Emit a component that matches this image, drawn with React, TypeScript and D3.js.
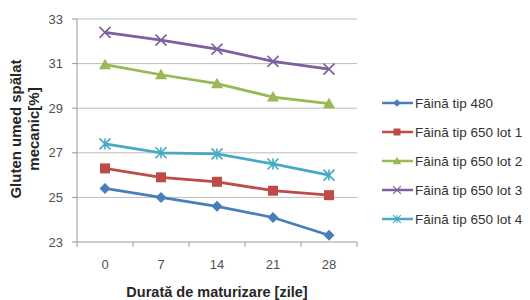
import React from "react";
import * as d3 from "d3";

const categories = ["0", "7", "14", "21", "28"];
const seriesNames = [
  "Făină tip 480",
  "Făină tip 650 lot 1",
  "Făină tip 650 lot 2",
  "Făină tip 650 lot 3",
  "Făină tip 650 lot 4",
];
const tip480 = [25.4, 25.0, 24.6, 24.1, 23.3];
const lot1 = [26.3, 25.9, 25.7, 25.3, 25.1];
const lot2 = [30.95, 30.5, 30.1, 29.5, 29.2];
const lot3 = [32.4, 32.05, 31.65, 31.1, 30.75];
const lot4 = [27.4, 27.0, 26.95, 26.5, 26.0];
const yTicks = [23, 25, 27, 29, 31, 33];
const colors = ["#4A7EBB", "#BE4B48", "#98B954", "#7D60A0", "#46AAC5"];
const markers = ["diamond", "square", "triangle", "x", "star"];

const allSeries = [tip480, lot1, lot2, lot3, lot4];

function Marker({ type, x, y, color }: { type: string; x: number; y: number; color: string }) {
  if (type === "diamond") {
    const s = 5.5;
    return <path d={`M${x},${y - s}L${x + s},${y}L${x},${y + s}L${x - s},${y}Z`} fill={color} />;
  }
  if (type === "square") {
    const s = 5;
    return <rect x={x - s} y={y - s} width={2 * s} height={2 * s} fill={color} />;
  }
  if (type === "triangle") {
    const s = 6;
    return <path d={`M${x},${y - s}L${x + s},${y + s * 0.75}L${x - s},${y + s * 0.75}Z`} fill={color} />;
  }
  if (type === "x") {
    const s = 5.5;
    return (
      <path d={`M${x - s},${y - s}L${x + s},${y + s}M${x - s},${y + s}L${x + s},${y - s}`} stroke={color} strokeWidth={1.6} fill="none" />
    );
  }
  const s = 5.5;
  return (
    <path
      d={`M${x - s},${y - s}L${x + s},${y + s}M${x - s},${y + s}L${x + s},${y - s}M${x},${y - s}L${x},${y + s}`}
      stroke={color}
      strokeWidth={1.6}
      fill="none"
    />
  );
}

export default function App() {
  const W = 530, H = 300;
  const left = 77, right = 357, top = 19, bottom = 242;
  const x = d3.scaleBand().domain(categories).range([left, right]);
  const y = d3.scaleLinear().domain([23, 33]).range([bottom, top]);
  const line = d3
    .line<number>()
    .x((_, i) => (x(categories[i]) as number) + x.bandwidth() / 2)
    .y((d) => y(d));
  const font = "'Liberation Sans', Arial, sans-serif";
  const legendY0 = 103, legendDy = 29;
  return (
    <svg width={W} height={H} style={{ position: "absolute", left: 0, top: 0, background: "#fff" }} fontFamily={font}>
      {yTicks.map((t) => (
        <g key={t}>
          {t !== 23 && <line x1={left} x2={right} y1={y(t)} y2={y(t)} stroke="#BDBDBD" strokeWidth={1} />}
          <line x1={left - 5} x2={left} y1={y(t)} y2={y(t)} stroke="#9A9A9A" />
          <text x={left - 14} y={y(t)} dy="0.35em" textAnchor="end" fontSize={13} fill="#505050">
            {t}
          </text>
        </g>
      ))}
      <line x1={left} x2={left} y1={top} y2={bottom} stroke="#9A9A9A" />
      <line x1={left} x2={right} y1={bottom} y2={bottom} stroke="#9A9A9A" />
      {d3.range(categories.length + 1).map((i) => {
        const xx = left + i * x.bandwidth();
        return <line key={i} x1={xx} x2={xx} y1={bottom} y2={bottom + 5} stroke="#9A9A9A" />;
      })}
      {categories.map((c) => (
        <text key={c} x={(x(c) as number) + x.bandwidth() / 2} y={bottom + 27} textAnchor="middle" fontSize={13} fill="#505050">
          {c}
        </text>
      ))}
      <text x={217} y={297} textAnchor="middle" fontSize={14.5} fontWeight="bold" fill="#262626">
        Durată de maturizare [zile]
      </text>
      <g transform="translate(21,129) rotate(-90)">
        <text x={0} y={0} textAnchor="middle" fontSize={15} fontWeight="bold" fill="#262626">
          Gluten umed spălat
        </text>
        <text x={0} y={18} textAnchor="middle" fontSize={15} fontWeight="bold" fill="#262626">
          mecanic[%]
        </text>
      </g>
      {allSeries.map((s, si) => (
        <g key={si}>
          <path d={line(s) || ""} fill="none" stroke={colors[si]} strokeWidth={2.75} />
          {s.map((v, i) => (
            <Marker key={i} type={markers[si]} x={(x(categories[i]) as number) + x.bandwidth() / 2} y={y(v)} color={colors[si]} />
          ))}
        </g>
      ))}
      {seriesNames.map((n, si) => {
        const ly = legendY0 + si * legendDy;
        return (
          <g key={n}>
            <line x1={382} x2={413} y1={ly} y2={ly} stroke={colors[si]} strokeWidth={2.5} />
            <g transform={`translate(397,${ly}) scale(0.7) translate(-397,${-ly})`}>
              <Marker type={markers[si]} x={397} y={ly} color={colors[si]} />
            </g>
            <text x={415} y={ly} dy="0.35em" fontSize={13.5} fill="#333">
              {n}
            </text>
          </g>
        );
      })}
    </svg>
  );
}
